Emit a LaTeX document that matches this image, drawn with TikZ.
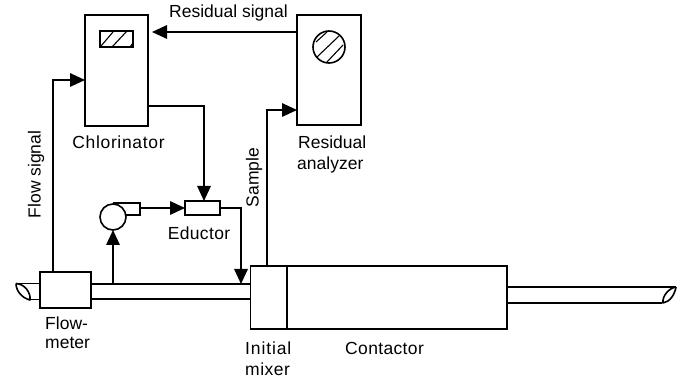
\documentclass[tikz,border=0pt]{standalone}
\usepackage{fontspec}
\setmainfont{Liberation Sans}
\usetikzlibrary{arrows.meta,calc}
\tikzset{
 ln/.style={line width=1.6pt,draw=black},
 boxn/.style={ln,rectangle,inner sep=0pt,outer sep=0pt,fill=white},
 arr/.style={ln,-{Triangle[length=15pt,width=13.5pt]}},
 lbl/.style={font=\fontsize{17.5}{20}\selectfont,inner sep=0pt,text=black},
 hat/.style={line width=1.1pt}
}
\begin{document}
\begin{tikzpicture}[x=1pt,y=-1pt]
\useasboundingbox (0,0) rectangle (683,382);
% pipes
\node[boxn,minimum width=51pt,minimum height=36pt] (fm) at (65.5,290) {};
\node[boxn,minimum width=36pt,minimum height=63pt] (mix) at (268.5,297.5) {};
\node[boxn,minimum width=220pt,minimum height=63pt] (con) at (397,297.5) {};
\draw[ln] (fm.west |- 0,283.5) -- (16,283.5);
\draw[ln] (fm.west |- 0,299.5) -- (30,299.5);
\draw[ln,line join=round] (16,283.5) .. controls (16,291) and (22,298) .. (30,300) .. controls (31,293) and (25,284) .. (16,283.5);
\coordinate (p1) at (fm.east |- 0,284); \coordinate (p2) at (fm.east |- 0,299);
\draw[ln] (p1) -- (mix.west |- p1);
\draw[ln] (p2) -- (mix.west |- p2);
\coordinate (o1) at (con.east |- 0,287); \coordinate (o2) at (con.east |- 0,303);
\coordinate (o1e) at (676,287); \coordinate (o2e) at (662,303);
\draw[ln] (o1) -- (o1e);
\draw[ln] (o2) -- (o2e);
\draw[ln,line join=round] (676,287) .. controls (669,288) and (662,296) .. (663,303) .. controls (670,302) and (675,294) .. (676,287);
% boxes
\node[boxn,minimum width=63pt,minimum height=111pt] (chl) at (116.5,70.5) {};
\node[boxn,minimum width=64pt,minimum height=110pt] (ana) at (329,70) {};
\node[boxn,minimum width=33pt,minimum height=16pt] (win) at (116.5,39) {};
\draw[hat] (win.south west) ++(1,-1) -- ++(12,-14);
\draw[hat] (win.south west) ++(12,0) -- ++(15,-16);
\draw[hat] (win.south east) ++(-3,0) -- ++(3,-4);
\node[boxn,circle,minimum size=32pt] (dial) at (329,47) {};
\draw[hat] (316,42) -- (327,32);
\draw[hat] (317,57) -- (339,36);
\draw[hat] (327,62) -- (343,45);
\node[boxn,minimum width=35pt,minimum height=14pt] (edu) at (202.5,208) {};
\node[boxn,circle,minimum size=26pt] (pump) at (113,217) {};
\coordinate (t1) at (113,203); \coordinate (t2) at (140,203); \coordinate (t3) at (140,215); \coordinate (t4) at (125,215);
\draw[ln] (t1) -- (t2) -- (t3) -- (t4);
% connectors
\draw[arr] (ana.west |- 0,32) -- (152,32);
\coordinate (f1) at (53,80);
\draw[arr] (fm.north -| f1) -- (f1) -- (chl.west |- f1);
\coordinate (c1) at (204,106);
\draw[arr] (chl.east |- c1) -- (c1) -- (edu.north -| c1);
\coordinate (pt) at (140,208);
\draw[arr] (pt) -- (edu.west |- pt);
\coordinate (e1) at (241,208);
\coordinate (e2) at (241,284);
\draw[arr] (edu.east |- e1) -- (e1) -- (e2);
\coordinate (pb) at (pump.south |- p1);
\draw[arr] (pb) -- (pump.south);
\coordinate (s1) at (267,110);
\draw[arr] (mix.north -| s1) -- (s1) -- (ana.west |- s1);
% labels
\node[lbl] (t-rs) at (228.5,13) {Residual signal};
\node[lbl] (t-ch) at (118.5,142) {\addfontfeature{LetterSpace=3.8}Chlorinator};
\node[lbl,anchor=west] (t-ra) at (298,142) {Residual};
\node[lbl,anchor=west] (t-an) at (297,165) {analyzer};
\node[lbl,rotate=90] (t-fs) at (36,174.5) {Flow signal};
\node[lbl,rotate=90] (t-sa) at (254,177.5) {Sample};
\node[lbl] (t-ed) at (199,233) {\addfontfeature{LetterSpace=2}Eductor};
\node[lbl,anchor=west] (t-fl) at (45,323) {Flow-};
\node[lbl,anchor=west] (t-me) at (45,343) {meter};
\node[lbl,anchor=west] (t-in) at (245,348) {\addfontfeature{LetterSpace=5}Initial};
\node[lbl,anchor=west] (t-mi) at (245,369) {\addfontfeature{LetterSpace=3}mixer};
\node[lbl,anchor=west] (t-co) at (345,348) {\addfontfeature{LetterSpace=2}Contactor};
\end{tikzpicture}
\end{document}
